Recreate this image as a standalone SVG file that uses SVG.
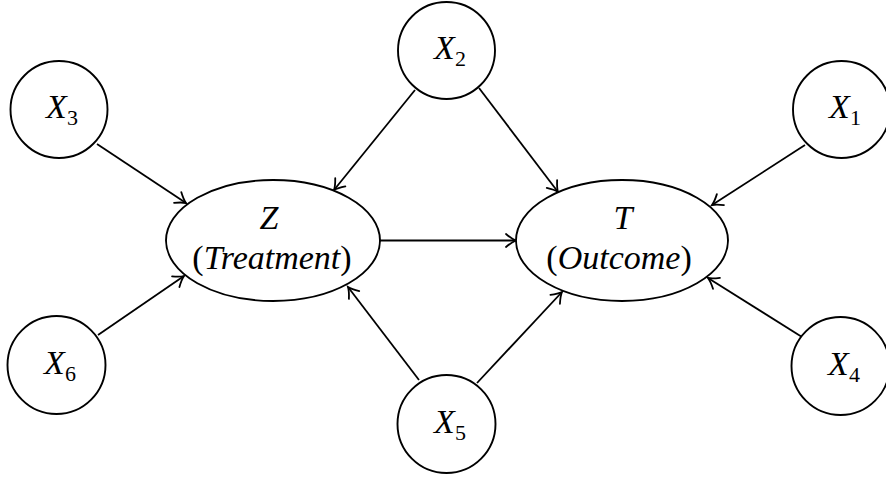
<svg xmlns="http://www.w3.org/2000/svg" width="886" height="477" viewBox="0 0 886 477">
  <defs>
    <marker id="arr" markerUnits="userSpaceOnUse" markerWidth="20" markerHeight="20" viewBox="-12 -10 14 20" refX="0" refY="0" orient="auto">
      <path d="M -10 -6.5 Q -4 -1.5 0 0 Q -4 1.5 -10 6.5" fill="none" stroke="#000" stroke-width="1.8" stroke-linecap="round"/>
    </marker>
  </defs>
  <style>
    .n { fill: #fff; stroke: #000; stroke-width: 1.9; }
    .t { font-family: "Liberation Serif", "Times New Roman", serif; font-size: 34px; fill: #000; text-anchor: middle; }
    .s { font-size: 22px; font-style: normal; }
    .i { font-style: italic; }
    .e { stroke: #000; stroke-width: 1.8; fill: none; marker-end: url(#arr); }
  </style>
  <rect width="886" height="477" fill="#fff"/>
  <g id="connectors">
    <line class="e" x1="97" y1="144" x2="186" y2="203"/>
    <line class="e" x1="415" y1="90" x2="334" y2="190"/>
    <line class="e" x1="479" y1="88" x2="558" y2="192"/>
    <line class="e" x1="805" y1="145" x2="712" y2="205"/>
    <line class="e" x1="380" y1="240.5" x2="516" y2="240.5"/>
    <line class="e" x1="98" y1="335" x2="184" y2="276"/>
    <line class="e" x1="419" y1="380" x2="348" y2="287"/>
    <line class="e" x1="477" y1="383" x2="562" y2="292"/>
    <line class="e" x1="802" y1="337" x2="708" y2="278"/>
  </g>
  <g id="Z">
    <ellipse class="n" cx="273" cy="240.5" rx="107" ry="60.5"/>
    <text class="t i" x="269" y="229">Z</text>
    <text class="t" x="272" y="269">(<tspan class="i">Treatment</tspan>)</text>
  </g>
  <g id="T">
    <ellipse class="n" cx="622" cy="240.5" rx="106" ry="60.5"/>
    <text class="t i" x="623" y="229">T</text>
    <text class="t" x="619" y="269">(<tspan class="i">Outcome</tspan>)</text>
  </g>
  <g id="X2">
    <circle class="n" cx="446.5" cy="50.5" r="48.5"/>
    <text class="t i" x="450" y="59">X<tspan class="s" dy="7">2</tspan></text>
  </g>
  <g id="X3">
    <circle class="n" cx="59" cy="109.5" r="48.5"/>
    <text class="t i" x="62" y="118">X<tspan class="s" dy="7">3</tspan></text>
  </g>
  <g id="X1">
    <circle class="n" cx="841.5" cy="109.5" r="48.5"/>
    <text class="t i" x="845" y="118">X<tspan class="s" dy="7">1</tspan></text>
  </g>
  <g id="X6">
    <circle class="n" cx="56.5" cy="365" r="49"/>
    <text class="t i" x="60" y="373.5">X<tspan class="s" dy="7">6</tspan></text>
  </g>
  <g id="X5">
    <circle class="n" cx="446.5" cy="424" r="49"/>
    <text class="t i" x="450" y="432.5">X<tspan class="s" dy="7">5</tspan></text>
  </g>
  <g id="X4">
    <circle class="n" cx="840.5" cy="366" r="49"/>
    <text class="t i" x="844" y="374.5">X<tspan class="s" dy="7">4</tspan></text>
  </g>
</svg>
